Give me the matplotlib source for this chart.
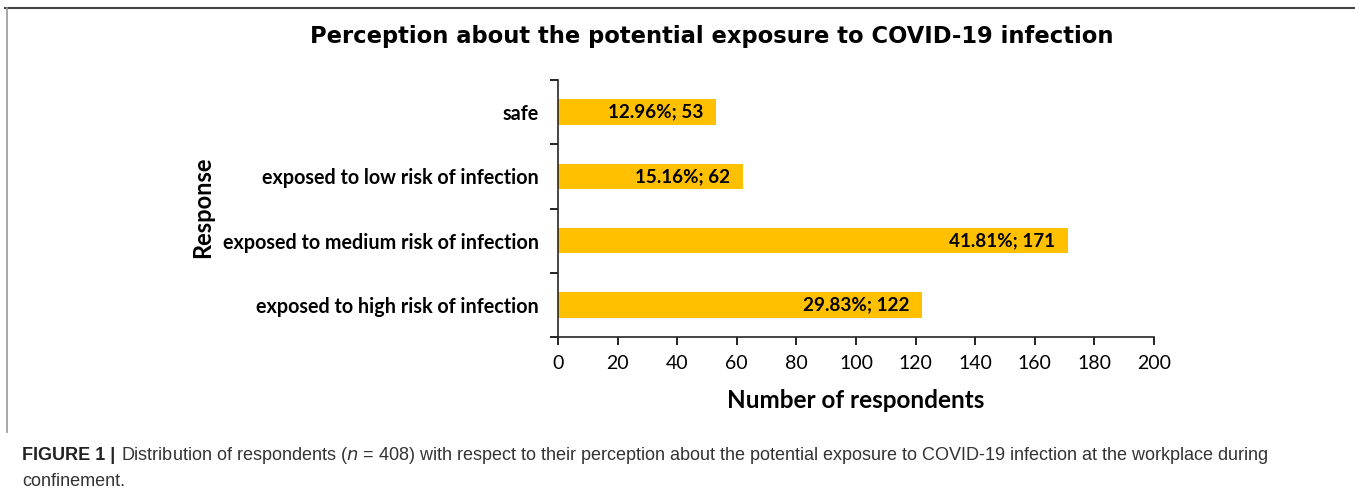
import matplotlib
matplotlib.use('Agg')
import matplotlib.pyplot as plt
from matplotlib.lines import Line2D

responses = ['safe', 'exposed to low risk of infection',
             'exposed to medium risk of infection', 'exposed to high risk of infection']
counts = [53, 62, 171, 122]
percents = [12.96, 15.16, 41.81, 29.83]
xticks = [0, 20, 40, 60, 80, 100, 120, 140, 160, 180, 200]

fig = plt.figure(figsize=(13.55, 4.94), dpi=100)
ax = fig.add_axes([0.4118, 0.3178, 0.8517 - 0.4118, 0.838 - 0.3178])

pos = list(range(len(responses)))
ax.barh(pos, counts, height=0.4, color='#FFC000')
for i in pos:
    ax.annotate('%.2f%%; %d' % (percents[i], counts[i]), xy=(counts[i], i),
                xytext=(-9, 0), textcoords='offset points', ha='right', va='center',
                fontsize=13.6, fontweight='bold', family='Lato', color='black')

ax.set_xlim(0, 200)
ax.set_ylim(-0.5, 3.5)
ax.invert_yaxis()
ax.set_xticks(xticks)
ax.set_xticklabels([str(t) for t in xticks], fontsize=14, family='Lato')
ax.set_yticks([p - 0.5 for p in pos] + [3.5])
ax.set_yticklabels([])
ax.set_yticks(pos, minor=True)
ax.set_yticklabels(responses, minor=True, fontsize=14.2, fontweight='bold', family='Lato')
ax.tick_params(axis='y', which='minor', length=0, pad=14)
ax.tick_params(axis='y', which='major', length=6, width=1.2, direction='out')
ax.tick_params(axis='x', length=6, width=1.2, direction='out', pad=7)
for s in ['top', 'right']:
    ax.spines[s].set_visible(False)
for s in ['left', 'bottom']:
    ax.spines[s].set_linewidth(1.2)
    ax.spines[s].set_color('#262626')

ax.set_xlabel('Number of respondents', fontsize=17.5, fontweight='bold', family='Lato', labelpad=12)
fig.text(203 / 1355, 1 - 207 / 494, 'Response', rotation=90, ha='center', va='center',
         fontsize=17, fontweight='bold', family='Lato')

fig.text(712 / 1355, 1 - 37 / 494, 'Perception about the potential exposure to COVID-19 infection',
         ha='center', va='center', fontsize=16.3, fontweight='bold', family='DejaVu Sans')

# frame around the chart
fig.add_artist(Line2D([5 / 1355, 1.0], [1 - 8 / 494, 1 - 8 / 494], transform=fig.transFigure,
                      color='#444444', lw=1.5))
fig.add_artist(Line2D([7 / 1355, 7 / 1355], [1 - 8 / 494, 1 - 432 / 494], transform=fig.transFigure,
                      color='#999999', lw=1.2))

cap_font = ['Liberation Sans Narrow', 'Liberation Sans']
t = fig.text(22 / 1355, 1 - 455 / 494, 'FIGURE 1 |', ha='left', va='center', fontsize=13,
             fontweight='bold', family=cap_font, color='#222222')
fig.text(0, 0, '', alpha=0)
ax.annotate('Distribution of respondents ($n$ = 408) with respect to their perception about the potential '
            'exposure to COVID-19 infection at the workplace during',
            xy=(1, 0.5), xycoords=t, xytext=(4, 0), textcoords='offset points',
            ha='left', va='center', fontsize=13, family=cap_font, color='#333333',
            annotation_clip=False)
fig.text(22 / 1355, 1 - 481 / 494, 'confinement.', ha='left', va='center', fontsize=13,
         family=cap_font, color='#333333')

fig.savefig('out.png', dpi=100)
